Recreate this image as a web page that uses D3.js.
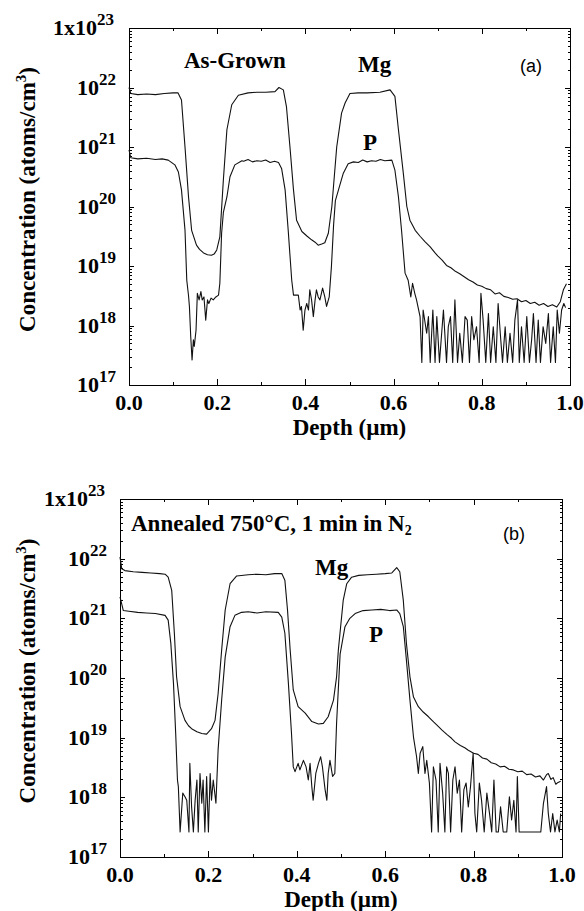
<!DOCTYPE html>
<html>
<meta charset="utf-8">
<style>
body { margin: 0; background: #fff; }
svg { display: block; }
text { font-family: "Liberation Serif", "Times New Roman", serif; font-weight: bold; fill: #000; }
.tag { font-family: "Liberation Sans", Arial, sans-serif; font-weight: normal; }
.frame { fill: none; stroke: #000; stroke-width: 1; shape-rendering: crispEdges; }
.ticks path { display: none; }
.ticks line { stroke: #000; stroke-width: 1; shape-rendering: crispEdges; }
.curve { fill: none; stroke: #111; stroke-width: 1.1; stroke-linejoin: round; }
</style>
<body>
<script src="https://cdn.jsdelivr.net/npm/d3@7"></script>
<script>
// depth (um), log10 of concentration (atoms/cm3)
var mgA = [[0.000,22.00],[0.004,21.90],[0.02,21.88],[0.04,21.89],[0.06,21.88],[0.08,21.90],[0.10,21.91],[0.111,21.91],
  [0.119,21.79],[0.127,21.00],[0.135,20.16],[0.142,19.60],[0.153,19.35],[0.160,19.28],[0.169,19.22],[0.178,19.19],
  [0.187,19.18],[0.193,19.20],[0.199,19.27],[0.206,19.49],[0.214,20.45],[0.222,21.29],[0.233,21.71],[0.248,21.87],
  [0.27,21.91],[0.29,21.92],[0.31,21.92],[0.331,21.93],[0.340,22.00],[0.350,21.96],[0.357,21.68],[0.365,21.00],
  [0.373,20.28],[0.380,19.77],[0.392,19.58],[0.404,19.50],[0.414,19.44],[0.422,19.40],[0.429,19.35],[0.437,19.37],
  [0.444,19.39],[0.452,19.55],[0.460,20.00],[0.471,21.00],[0.482,21.57],[0.490,21.74],[0.501,21.90],[0.52,21.91],
  [0.54,21.91],[0.569,21.92],[0.592,21.96],[0.603,21.85],[0.611,21.29],[0.622,20.56],[0.630,20.00],[0.637,19.77],
  [0.649,19.60],[0.660,19.50],[0.671,19.41],[0.683,19.32],[0.694,19.22],[0.70,19.17],[0.71,19.10],[0.72,19.01],
  [0.73,18.97],[0.74,18.91],[0.75,18.87],[0.76,18.82],[0.77,18.77],[0.78,18.73],[0.79,18.68],[0.80,18.66],
  [0.81,18.62],[0.82,18.60],[0.83,18.53],[0.84,18.55],[0.85,18.49],[0.86,18.47],[0.87,18.44],[0.88,18.45],
  [0.89,18.40],[0.90,18.42],[0.91,18.37],[0.92,18.39],[0.93,18.34],[0.94,18.37],[0.95,18.32],[0.96,18.35],
  [0.97,18.31],[0.978,18.40],[0.985,18.60],[0.992,18.70]];

var pA = [[0.000,20.95],[0.004,20.82],[0.02,20.80],[0.04,20.81],[0.06,20.79],[0.075,20.80],[0.089,20.78],[0.104,20.70],
  [0.112,20.58],[0.119,20.28],[0.127,19.60],[0.131,18.76],[0.135,18.50],[0.137,18.32],[0.140,17.81],[0.143,17.42],
  [0.146,17.76],[0.148,17.65],[0.152,17.92],[0.155,18.54],[0.159,18.43],[0.163,18.57],[0.166,18.43],[0.170,18.48],
  [0.174,18.09],[0.178,18.43],[0.181,18.37],[0.186,18.46],[0.191,18.43],[0.197,18.48],[0.203,18.51],[0.206,18.71],
  [0.210,19.55],[0.214,19.90],[0.222,20.16],[0.229,20.50],[0.240,20.70],[0.256,20.77],[0.26,20.76],[0.27,20.79],
  [0.28,20.75],[0.29,20.77],[0.30,20.76],[0.31,20.78],[0.32,20.74],[0.33,20.76],[0.339,20.74],[0.346,20.64],
  [0.354,20.28],[0.361,19.60],[0.369,18.76],[0.373,18.51],[0.384,18.51],[0.388,18.26],[0.391,18.32],[0.395,17.92],
  [0.399,18.26],[0.403,18.37],[0.407,18.26],[0.410,18.60],[0.414,18.43],[0.418,18.15],[0.422,18.43],[0.425,18.60],
  [0.429,18.48],[0.433,18.43],[0.439,18.63],[0.444,18.48],[0.448,18.32],[0.454,18.48],[0.459,18.99],[0.464,19.70],
  [0.468,20.10],[0.475,20.28],[0.486,20.56],[0.497,20.72],[0.509,20.75],[0.52,20.74],[0.53,20.78],[0.54,20.75],
  [0.55,20.77],[0.56,20.76],[0.57,20.79],[0.58,20.77],[0.596,20.78],[0.603,20.61],[0.611,20.16],[0.618,19.60],
  [0.626,18.88],[0.633,18.76],[0.639,18.48],[0.643,18.71],[0.648,18.54],[0.652,18.43],[0.660,18.15],[0.664,17.38],
  [0.667,18.26],[0.675,17.87],[0.679,18.15],[0.683,17.38],[0.689,18.26],[0.694,17.38],[0.698,18.15],[0.704,17.38],
  [0.709,17.87],[0.713,18.26],[0.720,17.38],[0.724,17.98],[0.729,18.15],[0.734,17.38],[0.739,18.43],[0.745,17.38],
  [0.750,17.87],[0.756,17.38],[0.762,18.15],[0.767,18.09],[0.772,17.38],[0.777,18.15],[0.782,17.76],[0.788,17.98],
  [0.794,17.38],[0.798,18.54],[0.803,18.09],[0.809,17.38],[0.815,18.20],[0.820,17.38],[0.826,17.98],[0.832,17.38],
  [0.837,18.37],[0.843,17.76],[0.847,17.38],[0.853,17.98],[0.858,17.38],[0.864,17.87],[0.870,17.38],[0.875,18.09],
  [0.881,18.43],[0.885,17.38],[0.890,17.98],[0.896,17.38],[0.902,18.15],[0.908,17.38],[0.913,17.76],[0.917,18.20],
  [0.923,17.38],[0.928,18.09],[0.933,17.38],[0.939,17.98],[0.945,17.70],[0.951,18.20],[0.956,17.38],[0.962,17.98],
  [0.967,17.38],[0.971,18.26],[0.976,17.87],[0.981,18.26],[0.986,18.37],[0.990,18.30]];

var mgB = [[0.000,22.03],[0.004,21.83],[0.011,21.80],[0.03,21.78],[0.05,21.77],[0.07,21.76],[0.09,21.75],[0.102,21.74],
  [0.109,21.69],[0.117,21.47],[0.123,20.75],[0.128,20.02],[0.136,19.52],[0.147,19.29],[0.155,19.20],[0.162,19.15],
  [0.174,19.10],[0.185,19.07],[0.196,19.06],[0.207,19.15],[0.215,19.29],[0.222,19.74],[0.230,20.47],[0.238,21.14],
  [0.249,21.58],[0.264,21.71],[0.29,21.73],[0.31,21.74],[0.33,21.73],[0.35,21.75],[0.366,21.75],[0.373,21.64],
  [0.379,21.14],[0.385,20.47],[0.392,19.80],[0.403,19.52],[0.419,19.41],[0.434,19.27],[0.449,19.23],[0.460,19.24],
  [0.471,19.35],[0.483,19.63],[0.490,20.02],[0.494,20.47],[0.505,21.30],[0.513,21.58],[0.524,21.69],[0.54,21.72],
  [0.56,21.73],[0.58,21.74],[0.60,21.75],[0.615,21.76],[0.626,21.85],[0.633,21.78],[0.641,21.30],[0.648,20.58],
  [0.656,20.02],[0.664,19.68],[0.675,19.52],[0.686,19.43],[0.698,19.35],[0.71,19.26],[0.72,19.19],[0.728,19.13],
  [0.74,19.05],[0.75,18.99],[0.758,18.93],[0.77,18.87],[0.78,18.83],[0.788,18.79],[0.80,18.74],[0.81,18.72],
  [0.82,18.66],[0.83,18.64],[0.84,18.58],[0.85,18.56],[0.86,18.51],[0.87,18.52],[0.88,18.47],[0.89,18.46],
  [0.90,18.43],[0.91,18.44],[0.92,18.38],[0.93,18.39],[0.94,18.34],[0.95,18.36],[0.958,18.29],[0.965,18.38],
  [0.969,18.40],[0.975,18.30],[0.98,18.33],[0.986,18.22],[0.991,18.25],[0.997,18.27]];

var pB = [[0.000,21.36],[0.0075,21.13],[0.02,21.12],[0.04,21.10],[0.06,21.09],[0.08,21.08],[0.102,21.05],[0.109,20.97],
  [0.115,20.58],[0.121,19.91],[0.126,19.07],[0.130,18.29],[0.132,18.18],[0.136,17.42],[0.142,18.07],[0.147,18.01],
  [0.151,17.95],[0.156,17.42],[0.158,18.57],[0.162,17.84],[0.166,17.42],[0.170,17.95],[0.174,18.29],[0.177,17.42],
  [0.181,18.40],[0.185,17.90],[0.188,18.29],[0.192,17.42],[0.196,18.35],[0.200,17.42],[0.204,18.40],[0.207,17.95],
  [0.211,18.29],[0.217,17.90],[0.222,18.80],[0.230,19.63],[0.238,20.35],[0.249,20.86],[0.260,21.05],[0.275,21.10],
  [0.29,21.11],[0.31,21.09],[0.33,21.11],[0.358,21.10],[0.366,21.02],[0.373,20.75],[0.381,19.91],[0.388,19.07],
  [0.392,18.51],[0.396,18.43],[0.403,18.57],[0.407,18.46],[0.415,18.62],[0.421,18.51],[0.426,18.29],[0.430,18.57],
  [0.434,18.18],[0.437,17.95],[0.443,18.40],[0.449,18.57],[0.454,18.68],[0.458,18.51],[0.464,18.13],[0.468,17.95],
  [0.471,18.40],[0.475,18.62],[0.481,18.35],[0.486,18.40],[0.490,19.24],[0.498,20.40],[0.509,20.86],[0.520,21.00],
  [0.532,21.08],[0.55,21.13],[0.57,21.14],[0.59,21.15],[0.61,21.13],[0.626,21.14],[0.633,21.08],[0.641,20.86],
  [0.648,20.30],[0.656,19.63],[0.664,19.01],[0.671,18.68],[0.675,18.40],[0.679,18.74],[0.685,18.85],[0.690,18.40],
  [0.694,18.62],[0.700,18.24],[0.705,17.42],[0.709,18.51],[0.715,18.29],[0.720,17.42],[0.724,18.57],[0.730,18.07],
  [0.735,17.42],[0.739,18.51],[0.743,18.40],[0.748,17.42],[0.753,18.29],[0.758,18.51],[0.763,18.07],[0.768,18.29],
  [0.773,17.42],[0.778,18.13],[0.783,18.24],[0.788,17.84],[0.793,18.18],[0.799,18.74],[0.803,17.73],[0.807,17.42],
  [0.813,18.24],[0.818,17.95],[0.824,17.42],[0.830,18.07],[0.836,17.73],[0.841,17.42],[0.846,18.29],[0.851,17.42],
  [0.856,17.42],[0.861,17.84],[0.867,17.42],[0.875,17.42],[0.881,18.01],[0.886,17.62],[0.891,17.95],[0.896,17.42],
  [0.899,18.35],[0.903,17.42],[0.952,17.42],[0.958,17.90],[0.965,18.18],[0.969,17.73],[0.974,17.42],[0.979,17.73],
  [0.984,17.42],[0.989,17.62],[0.994,17.42],[0.997,17.73]];

var depthTicks = [0, 0.2, 0.4, 0.6, 0.8, 1.0];
var depthMinor = [0.1, 0.3, 0.5, 0.7, 0.9];
var decades = [17, 18, 19, 20, 21, 22, 23];

var W = 584, H = 911;
var svg = d3.select("body").append("svg").attr("width", W).attr("height", H);

var panels = [
  { left: 129, top: 28, width: 441, height: 357, mg: mgA, p: pA,
    tag: "(a)", tagPos: [520, 72],
    title: [{t: "As-Grown"}], titlePos: [184, 68],
    mgPos: [358, 72], pPos: [363, 150] },
  { left: 120, top: 499, width: 442, height: 358, mg: mgB, p: pB,
    tag: "(b)", tagPos: [503, 540],
    title: [{t: "Annealed 750\u00B0C, 1 min in N"}, {t: "2", sub: true}], titlePos: [131, 531],
    mgPos: [315, 575], pPos: [369, 642] }
];

panels.forEach(function(cfg) {
  var g = svg.append("g").attr("transform", "translate(" + cfg.left + "," + cfg.top + ")");
  var x = d3.scaleLinear().domain([0, 1]).range([0, cfg.width]);
  var y = d3.scaleLog().domain([1e17, 1e23]).range([cfg.height, 0]);

  var minorY = [];
  decades.slice(0, -1).forEach(function(e) {
    for (var k = 2; k <= 9; k++) minorY.push(k * Math.pow(10, e));
  });
  var majorY = decades.map(function(e) { return Math.pow(10, e); });

  // ticks, all pointing inward
  g.append("g").attr("class", "ticks").attr("transform", "translate(0," + cfg.height + ")")
    .call(d3.axisBottom(x).tickValues(depthTicks).tickSize(-6).tickFormat(""));
  g.append("g").attr("class", "ticks").attr("transform", "translate(0," + cfg.height + ")")
    .call(d3.axisBottom(x).tickValues(depthMinor).tickSize(-3).tickFormat(""));
  g.append("g").attr("class", "ticks")
    .call(d3.axisTop(x).tickValues(depthTicks).tickSize(-6).tickFormat(""));
  g.append("g").attr("class", "ticks")
    .call(d3.axisTop(x).tickValues(depthMinor).tickSize(-3).tickFormat(""));
  g.append("g").attr("class", "ticks")
    .call(d3.axisLeft(y).tickValues(majorY).tickSize(-5).tickFormat(""));
  g.append("g").attr("class", "ticks")
    .call(d3.axisLeft(y).tickValues(minorY).tickSize(-2.5).tickFormat(""));
  g.append("g").attr("class", "ticks").attr("transform", "translate(" + cfg.width + ",0)")
    .call(d3.axisRight(y).tickValues(majorY).tickSize(-5).tickFormat(""));
  g.append("g").attr("class", "ticks").attr("transform", "translate(" + cfg.width + ",0)")
    .call(d3.axisRight(y).tickValues(minorY).tickSize(-2.5).tickFormat(""));

  g.append("rect").attr("class", "frame")
    .attr("x", 0).attr("y", 0).attr("width", cfg.width).attr("height", cfg.height);

  // y tick labels 10^n
  decades.forEach(function(e) {
    var isTop = e === 23;
    var t = g.append("text")
      .attr("x", isTop ? -76 : -52)
      .attr("y", y(Math.pow(10, e)) + 7)
      .attr("font-size", 22);
    t.append("tspan").text(isTop ? "1x10" : "10");
    t.append("tspan").attr("dy", -10).attr("font-size", 17).text(e);
  });

  // x tick labels
  g.selectAll(".xlab").data(depthTicks).enter().append("text")
    .attr("x", function(d) { return x(d); })
    .attr("y", cfg.height + 25)
    .attr("text-anchor", "middle")
    .attr("font-size", 22)
    .text(function(d) { return d.toFixed(1); });

  g.append("text")
    .attr("x", cfg.width / 2)
    .attr("y", cfg.height + 50)
    .attr("text-anchor", "middle")
    .attr("font-size", 23)
    .text("Depth (\u00B5m)");

  var yl = g.append("text")
    .attr("transform", "rotate(-90)")
    .attr("x", -(cfg.height / 2 - 7))
    .attr("y", 35 - cfg.left)
    .attr("text-anchor", "middle")
    .attr("font-size", 23);
  yl.append("tspan").text("Concentration (atoms/cm");
  yl.append("tspan").attr("dy", -9).attr("font-size", 15).text("3");
  yl.append("tspan").attr("dy", 9).text(")");

  var line = d3.line()
    .x(function(d) { return x(d[0]); })
    .y(function(d) { return y(Math.pow(10, d[1])); });

  g.append("path").attr("class", "curve").attr("d", line(cfg.mg));
  g.append("path").attr("class", "curve").attr("d", line(cfg.p));

  // annotations
  var tt = svg.append("text").attr("x", cfg.titlePos[0]).attr("y", cfg.titlePos[1]).attr("font-size", 23);
  cfg.title.forEach(function(s) {
    if (s.sub) tt.append("tspan").attr("dy", 4).attr("font-size", 14).text(s.t);
    else tt.append("tspan").text(s.t);
  });
  svg.append("text").attr("x", cfg.mgPos[0]).attr("y", cfg.mgPos[1]).attr("font-size", 23).text("Mg");
  svg.append("text").attr("x", cfg.pPos[0]).attr("y", cfg.pPos[1]).attr("font-size", 23).text("P");
  svg.append("text").attr("class", "tag").attr("x", cfg.tagPos[0]).attr("y", cfg.tagPos[1])
    .attr("font-size", 18).text(cfg.tag);
});
</script>
</body>
</html>
